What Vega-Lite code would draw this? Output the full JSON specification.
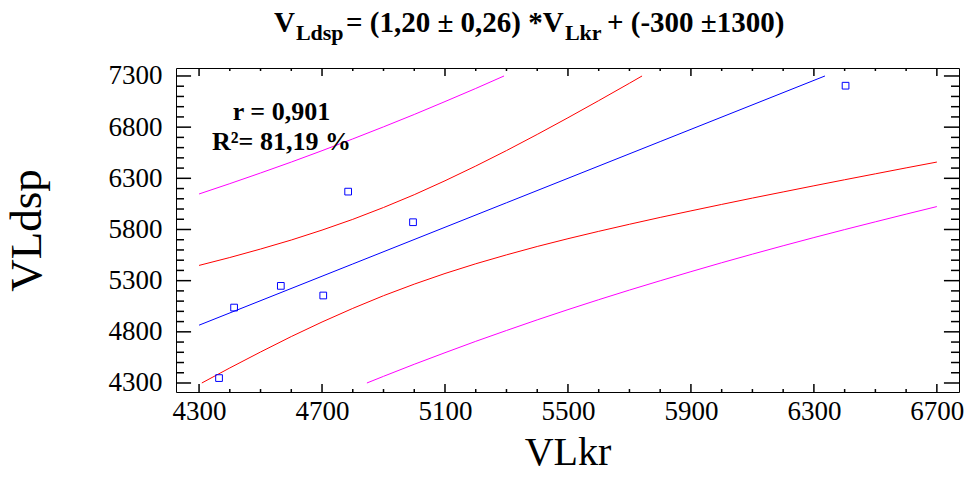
{
  "$schema": "https://vega.github.io/schema/vega-lite/v6.json",
  "width": 783,
  "height": 324,
  "autosize": {"type": "none"},
  "padding": {"left": 176, "top": 68, "right": 10, "bottom": 87},
  "background": "white",
  "config": {"view": {"stroke": "black", "strokeWidth": 1}, "font": "Liberation Serif"},
  "datasets": {
    "obs": [
      {"VLkr": 4365, "VLdsp": 4348},
      {"VLkr": 4414, "VLdsp": 5037},
      {"VLkr": 4566, "VLdsp": 5249},
      {"VLkr": 4704, "VLdsp": 5155},
      {"VLkr": 4785, "VLdsp": 6170},
      {"VLkr": 4996, "VLdsp": 5871},
      {"VLkr": 6403, "VLdsp": 7205}
    ],
    "xMajor": [{"v": 4300}, {"v": 4700}, {"v": 5100}, {"v": 5500}, {"v": 5900}, {"v": 6300}, {"v": 6700}],
    "xMinor": [{"v": 4400}, {"v": 4500}, {"v": 4600}, {"v": 4800}, {"v": 4900}, {"v": 5000}, {"v": 5200}, {"v": 5300}, {"v": 5400}, {"v": 5600}, {"v": 5700}, {"v": 5800}, {"v": 6000}, {"v": 6100}, {"v": 6200}, {"v": 6400}, {"v": 6500}, {"v": 6600}],
    "yMajor": [{"v": 4300}, {"v": 4800}, {"v": 5300}, {"v": 5800}, {"v": 6300}, {"v": 6800}, {"v": 7300}],
    "yMinor": [{"v": 4400}, {"v": 4500}, {"v": 4600}, {"v": 4700}, {"v": 4900}, {"v": 5000}, {"v": 5100}, {"v": 5200}, {"v": 5400}, {"v": 5500}, {"v": 5600}, {"v": 5700}, {"v": 5900}, {"v": 6000}, {"v": 6100}, {"v": 6200}, {"v": 6400}, {"v": 6500}, {"v": 6600}, {"v": 6700}, {"v": 6900}, {"v": 7000}, {"v": 7100}, {"v": 7200}],
    "curves": [
      {"curve": "fit", "x": 4300, "y": 4865},
      {"curve": "fit", "x": 4800, "y": 5463},
      {"curve": "fit", "x": 5300, "y": 6061},
      {"curve": "fit", "x": 5800, "y": 6659},
      {"curve": "fit", "x": 6336, "y": 7300},
      {"curve": "confU", "x": 4300, "y": 5449},
      {"curve": "confU", "x": 4400, "y": 5526},
      {"curve": "confU", "x": 4500, "y": 5609},
      {"curve": "confU", "x": 4600, "y": 5697},
      {"curve": "confU", "x": 4700, "y": 5794},
      {"curve": "confU", "x": 4800, "y": 5899},
      {"curve": "confU", "x": 4900, "y": 6015},
      {"curve": "confU", "x": 5000, "y": 6140},
      {"curve": "confU", "x": 5100, "y": 6276},
      {"curve": "confU", "x": 5200, "y": 6420},
      {"curve": "confU", "x": 5300, "y": 6571},
      {"curve": "confU", "x": 5400, "y": 6729},
      {"curve": "confU", "x": 5500, "y": 6892},
      {"curve": "confU", "x": 5600, "y": 7059},
      {"curve": "confU", "x": 5700, "y": 7229},
      {"curve": "confU", "x": 5741, "y": 7300},
      {"curve": "confL", "x": 4309, "y": 4300},
      {"curve": "confL", "x": 4400, "y": 4447},
      {"curve": "confL", "x": 4500, "y": 4603},
      {"curve": "confL", "x": 4600, "y": 4754},
      {"curve": "confL", "x": 4700, "y": 4896},
      {"curve": "confL", "x": 4800, "y": 5029},
      {"curve": "confL", "x": 4900, "y": 5153},
      {"curve": "confL", "x": 5000, "y": 5266},
      {"curve": "confL", "x": 5100, "y": 5370},
      {"curve": "confL", "x": 5200, "y": 5465},
      {"curve": "confL", "x": 5300, "y": 5552},
      {"curve": "confL", "x": 5400, "y": 5634},
      {"curve": "confL", "x": 5500, "y": 5710},
      {"curve": "confL", "x": 5600, "y": 5782},
      {"curve": "confL", "x": 5700, "y": 5851},
      {"curve": "confL", "x": 5800, "y": 5918},
      {"curve": "confL", "x": 5900, "y": 5982},
      {"curve": "confL", "x": 6000, "y": 6045},
      {"curve": "confL", "x": 6100, "y": 6107},
      {"curve": "confL", "x": 6200, "y": 6167},
      {"curve": "confL", "x": 6300, "y": 6227},
      {"curve": "confL", "x": 6400, "y": 6286},
      {"curve": "confL", "x": 6500, "y": 6344},
      {"curve": "confL", "x": 6600, "y": 6402},
      {"curve": "confL", "x": 6700, "y": 6459},
      {"curve": "predU", "x": 4300, "y": 6147},
      {"curve": "predU", "x": 4400, "y": 6248},
      {"curve": "predU", "x": 4500, "y": 6352},
      {"curve": "predU", "x": 4600, "y": 6459},
      {"curve": "predU", "x": 4700, "y": 6570},
      {"curve": "predU", "x": 4800, "y": 6685},
      {"curve": "predU", "x": 4900, "y": 6803},
      {"curve": "predU", "x": 5000, "y": 6924},
      {"curve": "predU", "x": 5100, "y": 7050},
      {"curve": "predU", "x": 5200, "y": 7178},
      {"curve": "predU", "x": 5292, "y": 7300},
      {"curve": "predL", "x": 4846, "y": 4300},
      {"curve": "predL", "x": 4900, "y": 4365},
      {"curve": "predL", "x": 5000, "y": 4483},
      {"curve": "predL", "x": 5100, "y": 4596},
      {"curve": "predL", "x": 5200, "y": 4707},
      {"curve": "predL", "x": 5300, "y": 4813},
      {"curve": "predL", "x": 5400, "y": 4917},
      {"curve": "predL", "x": 5500, "y": 5017},
      {"curve": "predL", "x": 5600, "y": 5114},
      {"curve": "predL", "x": 5700, "y": 5208},
      {"curve": "predL", "x": 5800, "y": 5299},
      {"curve": "predL", "x": 5900, "y": 5388},
      {"curve": "predL", "x": 6000, "y": 5475},
      {"curve": "predL", "x": 6100, "y": 5559},
      {"curve": "predL", "x": 6200, "y": 5641},
      {"curve": "predL", "x": 6300, "y": 5721},
      {"curve": "predL", "x": 6400, "y": 5799},
      {"curve": "predL", "x": 6500, "y": 5875},
      {"curve": "predL", "x": 6600, "y": 5950},
      {"curve": "predL", "x": 6700, "y": 6024}
    ]
  },
  "resolve": {"axis": {"x": "independent", "y": "independent"}},
  "layer": [
    {
      "data": {"name": "curves"},
      "mark": {"type": "line", "strokeWidth": 1},
      "encoding": {
        "x": {"field": "x", "type": "quantitative", "scale": {"domain": [4225, 6772], "nice": false, "zero": false}, "axis": null},
        "y": {"field": "y", "type": "quantitative", "scale": {"domain": [4212, 7378], "nice": false, "zero": false}, "axis": null},
        "color": {
          "field": "curve", "type": "nominal", "legend": null,
          "scale": {"domain": ["fit", "confU", "confL", "predU", "predL"], "range": ["#0000ff", "#ff0000", "#ff0000", "#ff00ff", "#ff00ff"]}
        }
      }
    },
    {
      "data": {"name": "obs"},
      "mark": {"type": "point", "shape": "square", "size": 45, "filled": false, "stroke": "#0000ff", "strokeWidth": 1, "opacity": 1},
      "encoding": {
        "x": {
          "field": "VLkr", "type": "quantitative",
          "axis": {
            "orient": "bottom", "title": "VLkr", "domain": false, "grid": false,
            "values": [4300, 4700, 5100, 5500, 5900, 6300, 6700],
            "format": "d", "ticks": false, "tickSize": 0,
            "labelFont": "Liberation Serif", "labelFontSize": 27, "labelColor": "black",
            "labelPadding": 6, "labelFlush": false, "labelOverlap": false,
            "titleFont": "Liberation Serif", "titleFontSize": 40, "titleFontWeight": "normal", "titleColor": "black", "titlePadding": 8
          }
        },
        "y": {
          "field": "VLdsp", "type": "quantitative",
          "axis": {
            "orient": "left", "title": "VLdsp", "domain": false, "grid": false,
            "values": [4300, 4800, 5300, 5800, 6300, 6800, 7300],
            "format": "d", "ticks": false, "tickSize": 0,
            "labelFont": "Liberation Serif", "labelFontSize": 27, "labelColor": "black",
            "labelPadding": 14, "labelFlush": false, "labelOverlap": false,
            "titleFont": "Liberation Serif", "titleFontSize": 45, "titleFontWeight": "normal", "titleColor": "black", "titlePadding": 59
          }
        }
      }
    },
    {
      "data": {"name": "xMajor"},
      "mark": {"type": "rule", "color": "#000000", "strokeWidth": 1.5, "opacity": 1},
      "encoding": {
        "x": {"field": "v", "type": "quantitative", "axis": null},
        "y": {"datum": 4212, "type": "quantitative", "axis": null},
        "y2": {"datum": 4290}
      }
    },
    {
      "data": {"name": "xMajor"},
      "mark": {"type": "rule", "color": "#000000", "strokeWidth": 1.5, "opacity": 1},
      "encoding": {
        "x": {"field": "v", "type": "quantitative", "axis": null},
        "y": {"datum": 7378, "type": "quantitative", "axis": null},
        "y2": {"datum": 7300}
      }
    },
    {
      "data": {"name": "xMinor"},
      "mark": {"type": "rule", "color": "#000000", "strokeWidth": 1.5, "opacity": 1},
      "encoding": {
        "x": {"field": "v", "type": "quantitative", "axis": null},
        "y": {"datum": 4212, "type": "quantitative", "axis": null},
        "y2": {"datum": 4241}
      }
    },
    {
      "data": {"name": "xMinor"},
      "mark": {"type": "rule", "color": "#000000", "strokeWidth": 1.5, "opacity": 1},
      "encoding": {
        "x": {"field": "v", "type": "quantitative", "axis": null},
        "y": {"datum": 7378, "type": "quantitative", "axis": null},
        "y2": {"datum": 7349}
      }
    },
    {
      "data": {"name": "yMajor"},
      "mark": {"type": "rule", "color": "#000000", "strokeWidth": 1.5, "opacity": 1},
      "encoding": {
        "y": {"field": "v", "type": "quantitative", "axis": null},
        "x": {"datum": 4225, "type": "quantitative", "axis": null},
        "x2": {"datum": 4274}
      }
    },
    {
      "data": {"name": "yMajor"},
      "mark": {"type": "rule", "color": "#000000", "strokeWidth": 1.5, "opacity": 1},
      "encoding": {
        "y": {"field": "v", "type": "quantitative", "axis": null},
        "x": {"datum": 6772, "type": "quantitative", "axis": null},
        "x2": {"datum": 6723}
      }
    },
    {
      "data": {"name": "yMinor"},
      "mark": {"type": "rule", "color": "#000000", "strokeWidth": 1.5, "opacity": 1},
      "encoding": {
        "y": {"field": "v", "type": "quantitative", "axis": null},
        "x": {"datum": 4225, "type": "quantitative", "axis": null},
        "x2": {"datum": 4251}
      }
    },
    {
      "data": {"name": "yMinor"},
      "mark": {"type": "rule", "color": "#000000", "strokeWidth": 1.5, "opacity": 1},
      "encoding": {
        "y": {"field": "v", "type": "quantitative", "axis": null},
        "x": {"datum": 6772, "type": "quantitative", "axis": null},
        "x2": {"datum": 6746}
      }
    },
    {
      "data": {"values": [{}]},
      "mark": {"type": "text", "text": "r = 0,901", "font": "Liberation Serif", "fontWeight": "bold", "fontSize": 26, "align": "center", "baseline": "alphabetic", "color": "black"},
      "encoding": {"x": {"datum": 4568, "type": "quantitative", "axis": null}, "y": {"datum": 6870, "type": "quantitative", "axis": null}}
    },
    {
      "data": {"values": [{}]},
      "mark": {"type": "text", "text": "R²= 81,19 %", "font": "Liberation Serif", "fontWeight": "bold", "fontSize": 26, "align": "center", "baseline": "alphabetic", "color": "black"},
      "encoding": {"x": {"datum": 4568, "type": "quantitative", "axis": null}, "y": {"datum": 6577, "type": "quantitative", "axis": null}}
    },
    {
      "data": {"values": [{}]},
      "mark": {"type": "text", "text": "V", "font": "Liberation Serif", "fontWeight": "bold", "fontSize": 29, "align": "left", "baseline": "alphabetic", "color": "black"},
      "encoding": {"x": {"datum": 4544, "type": "quantitative", "axis": null}, "y": {"datum": 7730, "type": "quantitative", "axis": null}}
    },
    {
      "data": {"values": [{}]},
      "mark": {"type": "text", "text": "Ldsp", "font": "Liberation Serif", "fontWeight": "bold", "fontSize": 22, "align": "left", "baseline": "alphabetic", "color": "black"},
      "encoding": {"x": {"datum": 4615, "type": "quantitative", "axis": null}, "y": {"datum": 7652, "type": "quantitative", "axis": null}}
    },
    {
      "data": {"values": [{}]},
      "mark": {"type": "text", "text": "= (1,20 ± 0,26) *V", "font": "Liberation Serif", "fontWeight": "bold", "fontSize": 29, "align": "left", "baseline": "alphabetic", "color": "black"},
      "encoding": {"x": {"datum": 4778, "type": "quantitative", "axis": null}, "y": {"datum": 7730, "type": "quantitative", "axis": null}}
    },
    {
      "data": {"values": [{}]},
      "mark": {"type": "text", "text": "Lkr", "font": "Liberation Serif", "fontWeight": "bold", "fontSize": 22, "align": "left", "baseline": "alphabetic", "color": "black"},
      "encoding": {"x": {"datum": 5490, "type": "quantitative", "axis": null}, "y": {"datum": 7652, "type": "quantitative", "axis": null}}
    },
    {
      "data": {"values": [{}]},
      "mark": {"type": "text", "text": "+ (-300 ±1300)", "font": "Liberation Serif", "fontWeight": "bold", "fontSize": 29, "align": "left", "baseline": "alphabetic", "color": "black"},
      "encoding": {"x": {"datum": 5627, "type": "quantitative", "axis": null}, "y": {"datum": 7730, "type": "quantitative", "axis": null}}
    }
  ]
}
